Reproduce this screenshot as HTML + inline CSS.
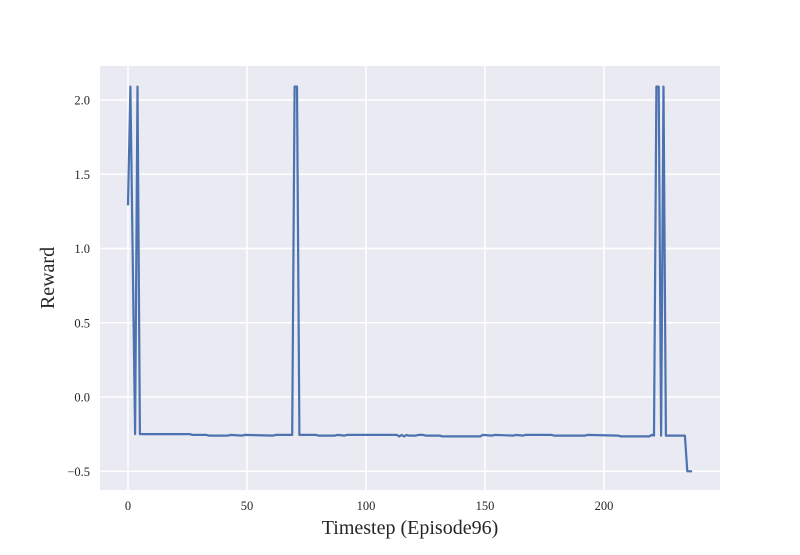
<!DOCTYPE html>
<html><head><meta charset="utf-8">
<style>
body{margin:0;background:#fff;font-family:"Liberation Serif",serif;}
svg text{font-family:"Liberation Serif",serif;fill:#262626;}
</style></head>
<body>
<svg width="800" height="550" xmlns="http://www.w3.org/2000/svg">
<rect x="100" y="66" width="620" height="424" fill="#eaeaf2"/>
<g id="grid"></g>
<g id="ticks"></g>
<path id="line" fill="none" stroke="#4c72b0" stroke-width="2.2" stroke-linejoin="round"/>
<text x="410" y="534" font-size="20" text-anchor="middle">Timestep (Episode96)</text>
<text x="54" y="278" font-size="20" text-anchor="middle" transform="rotate(-90 54 278)">Reward</text>
</svg>
<script>
const xTicks=[0,50,100,150,200];
const yTicks=[-0.5,0.0,0.5,1.0,1.5,2.0];
const yTickLabels=["−0.5","0.0","0.5","1.0","1.5","2.0"];
const stepX=[0,1,3,4,5,26,27,33,34,42,43,48,49,61,62,69,70,71,72,79,80,87,88,91,92,113,114,115,116,117,118,121,122,124,125,131,132,148,149,153,154,162,163,166,167,178,179,192,193,206,207,219,220,221,222,223,224,225,226,234,235,237];
const stepY=[1.29,2.09,-0.25,2.09,-0.25,-0.25,-0.255,-0.255,-0.26,-0.26,-0.255,-0.26,-0.255,-0.26,-0.255,-0.255,2.09,2.09,-0.255,-0.255,-0.26,-0.26,-0.255,-0.26,-0.255,-0.255,-0.265,-0.255,-0.265,-0.255,-0.26,-0.26,-0.255,-0.255,-0.26,-0.26,-0.265,-0.265,-0.255,-0.26,-0.255,-0.26,-0.255,-0.26,-0.255,-0.255,-0.26,-0.26,-0.255,-0.26,-0.265,-0.265,-0.255,-0.26,2.09,2.09,-0.26,2.09,-0.26,-0.26,-0.50,-0.50];
const X=v=>128+v*2.38, Y=v=>397-v*148.5;
const ns="http://www.w3.org/2000/svg";
const grid=document.getElementById('grid'), ticks=document.getElementById('ticks');
xTicks.forEach(t=>{
 const l=document.createElementNS(ns,'line');
 l.setAttribute('x1',X(t));l.setAttribute('x2',X(t));l.setAttribute('y1',66);l.setAttribute('y2',490);
 l.setAttribute('stroke','#fff');l.setAttribute('stroke-width','1.5');
 
 
 grid.appendChild(l);
 const tx=document.createElementNS(ns,'text');
 tx.setAttribute('x',X(t));tx.setAttribute('y',510);tx.setAttribute('font-size','12.5');tx.setAttribute('text-anchor','middle');
 tx.textContent=t;
 
 
 ticks.appendChild(tx);
});
yTicks.forEach((t,i)=>{
 const l=document.createElementNS(ns,'line');
 l.setAttribute('x1',100);l.setAttribute('x2',720);l.setAttribute('y1',Y(t));l.setAttribute('y2',Y(t));
 l.setAttribute('stroke','#fff');l.setAttribute('stroke-width','1.5');
 
 
 grid.appendChild(l);
 const tx=document.createElementNS(ns,'text');
 tx.setAttribute('x',90);tx.setAttribute('y',Y(t)+4.5);tx.setAttribute('font-size','12.5');tx.setAttribute('text-anchor','end');
 tx.textContent=yTickLabels[i];
 
 
 ticks.appendChild(tx);
});
document.getElementById('line').setAttribute('d',stepX.map((x,i)=>(i?'L':'M')+X(x).toFixed(1)+' '+Y(stepY[i]).toFixed(1)).join(' '));
</script>
</body></html>
